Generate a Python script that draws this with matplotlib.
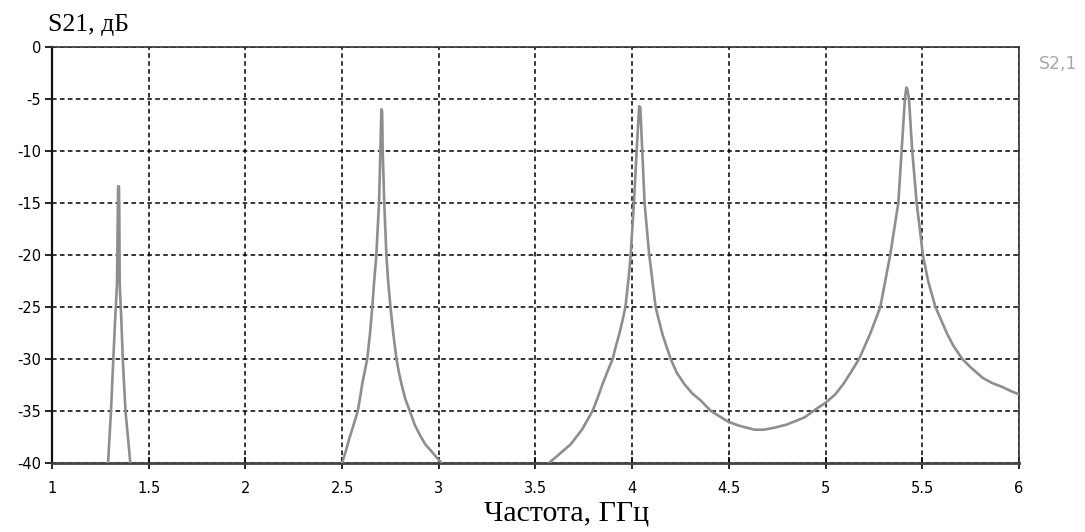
import numpy as np
import matplotlib
matplotlib.use("Agg")
import matplotlib.pyplot as plt

# S21 response (GHz, dB); curve is clipped at -40 dB
peak1_f = [1.290, 1.305, 1.317, 1.327, 1.336, 1.342, 1.346, 1.348, 1.350, 1.354, 1.358, 1.366, 1.380, 1.405]
peak1_db = [-40.0, -35.0, -30.0, -26.0, -22.8, -13.4, -13.4, -16.0, -22.8, -24.5, -26.0, -30.0, -35.0, -40.0]

peak2_f = [2.500, 2.520, 2.538, 2.560, 2.581, 2.594, 2.604, 2.617, 2.630, 2.644, 2.656,
           2.666, 2.677, 2.691, 2.698, 2.703, 2.707, 2.710, 2.718, 2.729, 2.738, 2.750,
           2.765, 2.781, 2.794, 2.807, 2.826, 2.850, 2.875, 2.902, 2.930, 2.963, 2.990, 3.015]
peak2_db = [-40.0, -38.8, -37.6, -36.3, -35.0, -33.6, -32.4, -31.2, -30.0, -27.6, -25.0,
            -22.5, -20.0, -15.0, -10.0, -6.0, -6.2, -10.0, -15.0, -20.0, -22.5, -25.0,
            -27.6, -30.0, -31.3, -32.4, -33.8, -35.0, -36.3, -37.3, -38.2, -38.9, -39.5, -40.0]

peak34_f = [3.569, 3.620, 3.682, 3.740, 3.795, 3.820, 3.847, 3.870, 3.899, 3.915, 3.933,
            3.950, 3.965, 3.982, 3.992, 4.009, 4.023, 4.036, 4.042, 4.052, 4.064, 4.087,
            4.121, 4.156, 4.199, 4.230, 4.269, 4.310, 4.355, 4.407, 4.494, 4.550, 4.633,
            4.680, 4.737, 4.800, 4.893, 4.936, 5.000, 5.050, 5.092, 5.130, 5.173, 5.230,
            5.283, 5.334, 5.376, 5.393, 5.410, 5.417, 5.422, 5.431, 5.448, 5.471, 5.503,
            5.530, 5.568, 5.629, 5.660, 5.707, 5.750, 5.811, 5.860, 5.915, 5.960, 6.000]
peak34_db = [-40.0, -39.2, -38.2, -36.8, -35.0, -33.8, -32.4, -31.3, -30.0, -28.8, -27.6,
             -26.3, -25.0, -22.1, -20.0, -15.0, -10.0, -5.7, -5.8, -10.0, -15.0, -19.8,
             -25.0, -27.6, -30.0, -31.3, -32.4, -33.3, -34.0, -35.0, -36.0, -36.4, -36.8,
             -36.8, -36.6, -36.3, -35.6, -35.0, -34.2, -33.4, -32.4, -31.3, -30.0, -27.6,
             -25.0, -20.0, -15.0, -10.0, -5.0, -3.9, -4.0, -5.0, -10.0, -15.0, -20.0,
             -22.5, -25.0, -27.6, -28.7, -30.0, -30.8, -31.8, -32.3, -32.7, -33.1, -33.4]

x_ticks = np.arange(1.0, 6.01, 0.5)
x_labels = ["1", "1.5", "2", "2.5", "3", "3.5", "4", "4.5", "5", "5.5", "6"]
y_ticks = np.arange(-40, 1, 5)

W, H = 1085, 532
fig = plt.figure(figsize=(W / 100, H / 100), dpi=100)
ax = fig.add_axes([52 / W, 1 - 463 / H, (1019 - 52) / W, (463 - 47) / H])

curve_color = "#8e8e8e"
for f, db in [(peak1_f, peak1_db), (peak2_f, peak2_db), (peak34_f, peak34_db)]:
    ax.plot(f, db, color=curve_color, lw=1.9, solid_joinstyle="round", zorder=3)

ax.set_xlim(1, 6)
ax.set_ylim(-40, 0)
ax.set_xticks(x_ticks)
ax.set_xticklabels(x_labels)
ax.set_yticks(y_ticks)
ax.set_yticklabels([str(v) for v in y_ticks])

# dashed black grid
ax.grid(True, color="black", lw=1.1, linestyle=(0, (3, 2.2)), zorder=1)

for side in ["top", "right"]:
    ax.spines[side].set_color("#333333")
    ax.spines[side].set_linewidth(1.2)
ax.spines["left"].set_color("#111111")
ax.spines["left"].set_linewidth(1.6)
ax.spines["bottom"].set_color("#444444")
ax.spines["bottom"].set_linewidth(2.0)

ax.tick_params(axis="y", direction="out", length=5, width=1.2, pad=3,
               labelsize=10.5, colors="black")
ax.tick_params(axis="x", direction="inout", length=8, width=1.2, pad=9,
               labelsize=10.5, colors="black")
for lab in ax.get_xticklabels() + ax.get_yticklabels():
    lab.set_fontfamily("DejaVu Sans")

fig.text(48 / W, 1 - 31 / H, "S21, дБ", family="Liberation Serif", fontsize=18.5,
         ha="left", va="baseline")
fig.text(567 / W, 1 - 521 / H, "Частота, ГГц", family="Liberation Serif", fontsize=21.5,
         ha="center", va="baseline")
fig.text(1039 / W, 1 - 64 / H, "S2,1", family="DejaVu Sans", fontsize=12.5,
         color="#a8a8a8", ha="left", va="center")

fig.savefig("out.png", dpi=100)
